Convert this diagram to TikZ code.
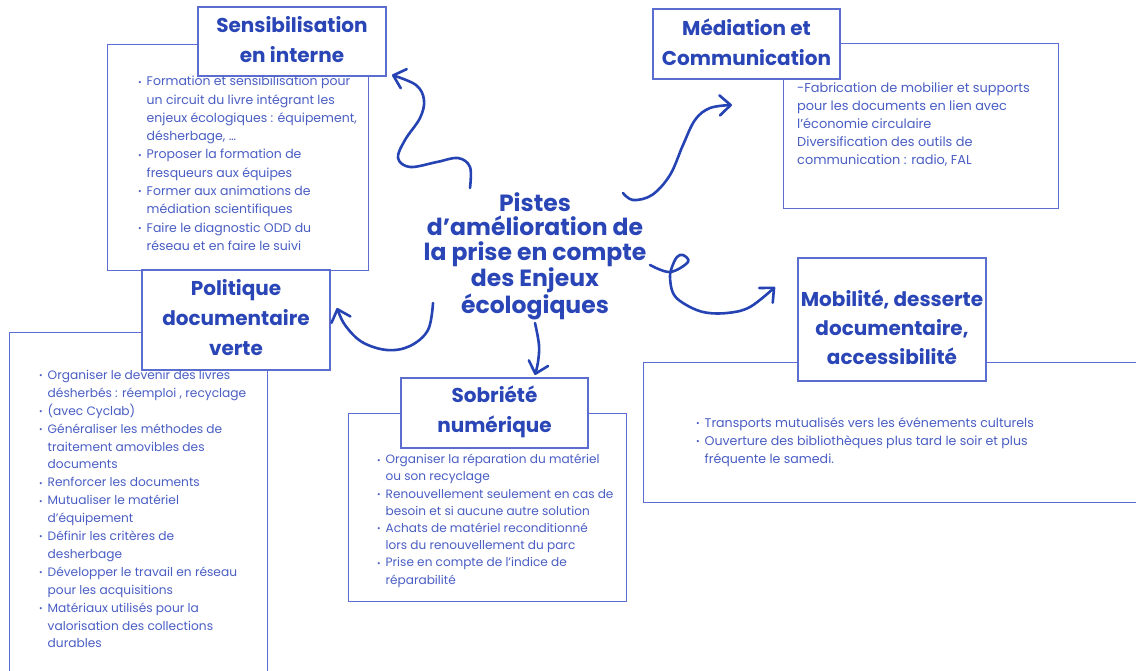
\documentclass[tikz,border=0pt]{standalone}
\usepackage{fontspec}
\setmainfont{Poppins}
\usetikzlibrary{arrows.meta}
\definecolor{boxc}{HTML}{5B6ED0}
\definecolor{titc}{HTML}{2A45B6}
\definecolor{txtc}{HTML}{4A5EC4}
\definecolor{arrc}{HTML}{2543B3}
\newcommand\bul{\makebox[8.5pt][l]{\raisebox{0.1ex}{\scalebox{0.7}{•}}}}
\newcommand\ind{\hspace*{8.5pt}}
\begin{document}
\begin{tikzpicture}[x=1pt,y=-1pt,
  cbox/.style={draw=boxc, line width=1.3pt, fill=white, inner sep=0, anchor=north west},
  tbox/.style={draw=boxc, line width=1.3pt, fill=white, inner sep=0},
  ttl/.style={text=titc, font=\fontsize{20}{30}\selectfont\bfseries, align=center, inner sep=0},
  body/.style={text=txtc, font=\fontsize{12.1}{18}\selectfont, align=left, anchor=north west, inner sep=0},
  arr/.style={draw=arrc, line width=2.6pt, line cap=round, line join=round,
    -{Straight Barb[length=11pt,width=20pt,line cap=round,line join=round]}}
]
\useasboundingbox (0,0) rectangle (1136,670);
\begin{scope}
\clip (0,0) rectangle (1136,670);
% Sensibilisation
\node[cbox, minimum width=261pt, minimum height=226pt] (sensC) at (107,44) {};
\node[tbox, minimum width=188pt, minimum height=69pt] (sensT) at (292,41.5) {};
\node[ttl] (sensL) at (292,40) {Sensibilisation\\en interne};
\node[body, font=\fontsize{12.5}{18.3}\selectfont] (sensB) at (138,76) {\bul Formation et sensibilisation pour\\
\ind un circuit du livre intégrant les\\
\ind enjeux écologiques : équipement,\\
\ind désherbage, …\\
\bul Proposer la formation de\\
\ind fresqueurs aux équipes\\
\bul Former aux animations de\\
\ind médiation scientifiques\\
\bul Faire le diagnostic ODD du\\
\ind réseau et en faire le suivi};
% Mediation
\node[cbox, minimum width=275pt, minimum height=165pt] (medC) at (783,43) {};
\node[tbox, minimum width=187pt, minimum height=70pt] (medT) at (746.5,44) {};
\node[ttl] (medL) at (746.5,42) {Médiation et\\Communication};
\node[body, font=\fontsize{12.9}{18}\selectfont] (medB) at (797,82) {-Fabrication de mobilier et supports\\
pour les documents en lien avec\\
l’économie circulaire\\
Diversification des outils de\\
communication : radio, FAL};
% Politique
\node[cbox, minimum width=258pt, minimum height=360pt] (polC) at (9,332) {};
\node[tbox, minimum width=188pt, minimum height=100pt] (polT) at (236,320) {};
\node[ttl] (polL) at (236,318) {Politique\\documentaire\\verte};
\node[body, font=\fontsize{12.2}{17.9}\selectfont] (polB) at (39,370) {\bul Organiser le devenir des livres\\
\ind désherbés : réemploi , recyclage\\
\bul (avec Cyclab)\\
\bul Généraliser les méthodes de\\
\ind traitement amovibles des\\
\ind documents\\
\bul Renforcer les documents\\
\bul Mutualiser le matériel\\
\ind d’équipement\\
\bul Définir les critères de\\
\ind desherbage\\
\bul Développer le travail en réseau\\
\ind pour les acquisitions\\
\bul Matériaux utilisés pour la\\
\ind valorisation des collections\\
\ind durables};
% Sobriete
\node[cbox, minimum width=278pt, minimum height=188pt] (sobC) at (348,413) {};
\node[tbox, minimum width=187pt, minimum height=70pt] (sobT) at (494.5,413) {};
\node[ttl] (sobL) at (494.5,412) {Sobriété\\numérique};
\node[body, font=\fontsize{12.1}{17.2}\selectfont] (sobB) at (377,454) {\bul Organiser la réparation du matériel\\
\ind ou son recyclage\\
\bul Renouvellement seulement en cas de\\
\ind besoin et si aucune autre solution\\
\bul Achats de matériel reconditionné\\
\ind lors du renouvellement du parc\\
\bul Prise en compte de l’indice de\\
\ind réparabilité};
% Mobilite
\node[cbox, minimum width=500pt, minimum height=140pt] (mobC) at (643,362) {};
\node[tbox, minimum width=188pt, minimum height=123pt] (mobT) at (892,319.5) {};
\node[ttl, font=\fontsize{20}{29}\selectfont\bfseries] (mobL) at (892,327) {Mobilité, desserte\\documentaire,\\accessibilité};
\node[body, font=\fontsize{12.6}{18}\selectfont] (mobB) at (696,417) {\bul Transports mutualisés vers les événements culturels\\
\bul Ouverture des bibliothèques plus tard le soir et plus\\
\ind fréquente le samedi.};
\end{scope}
% centre
\node[text=titc, font=\fontsize{23.5}{24.5}\selectfont\bfseries, align=center, inner sep=0] (ctr) at (535,256)
 {Pistes\\d’amélioration de\\la prise en compte\\des Enjeux\\écologiques};
% arrows
\coordinate (aS0) at (470,188); \coordinate (aS1) at (392,75);
\coordinate (aM0) at (623,193); \coordinate (aM1) at (732,105);
\coordinate (aP0) at (433,303); \coordinate (aP1) at (337,308);
\coordinate (aB0) at (650,265); \coordinate (aB1) at (775,287);
\coordinate (aD0) at (535,323); \coordinate (aD1) at (535,375);
\draw[arr] plot[smooth, tension=0.6] coordinates {(aS0) (470,167) (458,158) (437,162) (410,167) (398,158) (405,140) (420,118) (424,100) (416,85) (aS1)};
\draw[arr] plot[smooth, tension=0.6] coordinates {(aM0) (633,200) (652,195) (670,175) (683,145) (695,120) (710,108) (aM1)};
\draw[arr] plot[smooth, tension=0.6] coordinates {(aP0) (428,330) (410,346) (387,350) (362,342) (345,325) (aP1)};
\draw[arr] plot[smooth, tension=0.6] coordinates {(aB0) (670,272) (688,262) (683,255) (677,257) (672,267) (670,277) (673,293) (683,303) (703,312) (727,313) (750,307) (aB1)};
\draw[arr] plot[smooth, tension=0.6] coordinates {(aD0) (539,345) (538,362) (aD1)};
\end{tikzpicture}
\end{document}
